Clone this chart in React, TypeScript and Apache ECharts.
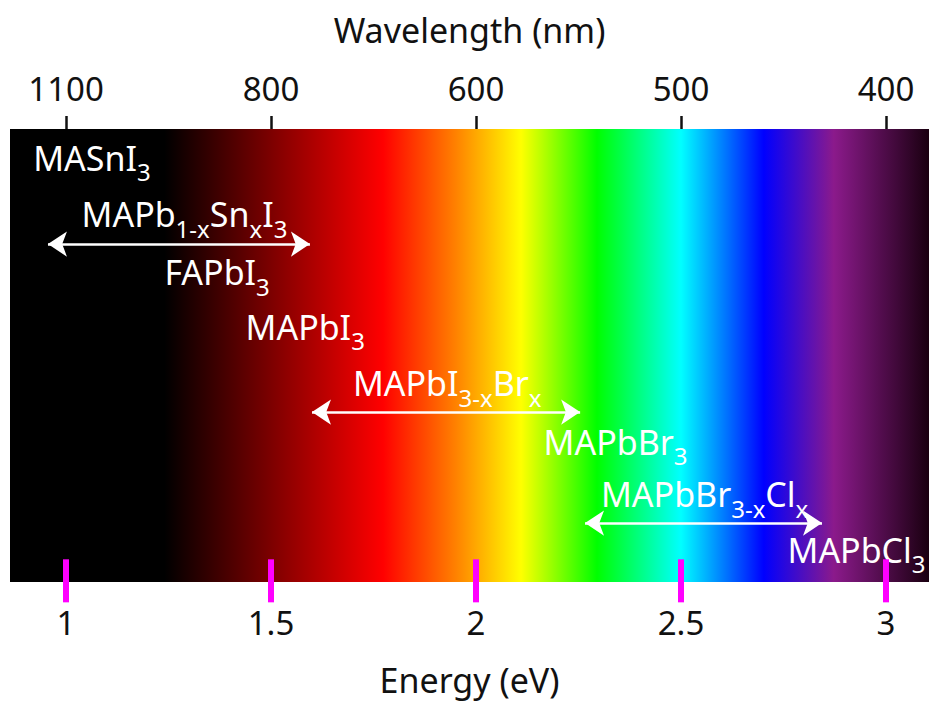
import React, { useEffect, useRef } from "react";
import * as echarts from "echarts";

// Axis data
const energyRange = [0.8634, 3.105];
const energyTicks = [1, 1.5, 2, 2.5, 3];
const energyTickLabels = ["1", "1.5", "2", "2.5", "3"];
const wavelengthLabels = ["1100", "800", "600", "500", "400"];

// Vertical layout rows (band spans rows 0..10, bottom ticks hang below it)
const bandRows = [0, 10];
const tickRows = [9.5, 10.45];

// Spectrum colour stops (energy in eV -> colour)
const spectrumEnergies = [0.8634, 1.24, 1.773, 1.949, 2.11, 2.295, 2.5, 2.702, 2.873, 3.105];
const spectrumColors = ["#000000", "#000000", "#ff0000", "#ff8000", "#ffff00", "#00ff00", "#00ffff", "#0000ff", "#8b1a8b", "#1a0010"];

// Material labels
const materialLabels = [
  "MASnI_{3}",
  "MAPb_{1-x}Sn_{x}I_{3}",
  "FAPbI_{3}",
  "MAPbI_{3}",
  "MAPbI_{3-x}Br_{x}",
  "MAPbBr_{3}",
  "MAPbBr_{3-x}Cl_{x}",
  "MAPbCl_{3}",
];
const labelEnergy = [0.92, 1.038, 1.24, 1.438, 1.7, 2.165, 2.305, 2.76];
const labelRow = [0.64, 1.88, 3.16, 4.37, 5.61, 6.91, 8.06, 9.29];

// Tunable-composition arrows
const arrowStart = [0.956, 1.6, 2.266];
const arrowEnd = [1.595, 2.254, 2.844];
const arrowRow = [2.54, 6.25, 8.7];

const FONT = "Noto Sans";

function toRich(s: string): string {
  const out: string[] = [];
  const re = /_\{([^}]*)\}/g;
  let last = 0;
  let m: RegExpExecArray | null;
  while ((m = re.exec(s))) {
    if (m.index > last) out.push(`{m|${s.slice(last, m.index)}}`);
    out.push(`{s|${m[1]}}`);
    last = m.index + m[0].length;
  }
  if (last < s.length) out.push(`{m|${s.slice(last)}}`);
  return out.join("");
}

export default function App() {
  const ref = useRef<HTMLDivElement>(null);
  useEffect(() => {
    if (!ref.current) return;
    const chart = echarts.init(ref.current, undefined, { renderer: "svg" });
    const [eMin, eMax] = energyRange;
    const stops = spectrumEnergies.map((e, i) => ({
      offset: (e - eMin) / (eMax - eMin),
      color: spectrumColors[i],
    }));
    const tickLabelFor = (arr: string[]) => (v: number) => {
      const i = energyTicks.findIndex((t) => Math.abs(t - v) < 1e-6);
      return i >= 0 ? arr[i] : "";
    };
    const axisCommon = {
      type: "value",
      min: eMin,
      max: eMax,
      nameLocation: "middle",
      nameTextStyle: { fontFamily: FONT, fontSize: 34, color: "#111" },
      axisLine: { show: false, onZero: false },
      splitLine: { show: false },
    };
    chart.setOption({
      animation: false,
      backgroundColor: "#ffffff",
      grid: { left: 10, right: 0, top: 129, bottom: 108, containLabel: false, outerBoundsMode: "none" },
      xAxis: [
        {
          ...axisCommon,
          position: "bottom",
          name: "Energy (eV)",
          nameGap: 67,
          axisTick: { show: false },
          axisLabel: {
            customValues: energyTicks,
            formatter: tickLabelFor(energyTickLabels),
            fontFamily: FONT,
            fontSize: 33,
            color: "#111",
            margin: 10,
          },
        },
        {
          ...axisCommon,
          position: "top",
          name: "Wavelength (nm)",
          nameGap: 82,
          axisTick: {
            show: true,
            inside: false,
            length: 13,
            customValues: energyTicks,
            lineStyle: { color: "#111", width: 2.5 },
          },
          axisLabel: {
            customValues: energyTicks,
            formatter: tickLabelFor(wavelengthLabels),
            fontFamily: FONT,
            fontSize: 33,
            color: "#111",
            margin: 24,
          },
        },
      ],
      yAxis: { type: "value", min: bandRows[0], max: 10.31, inverse: true, show: false },
      series: [
        {
          type: "custom",
          xAxisIndex: 0,
          silent: true,
          renderItem: (params: any, api: any) => {
            const p0 = api.coord([api.value(0), api.value(2)]);
            const p1 = api.coord([api.value(1), api.value(3)]);
            const top = Math.min(p0[1], p1[1]);
            const bottom = Math.max(p0[1], p1[1]);
            return {
              type: "rect",
              shape: { x: p0[0], y: top, width: p1[0] - p0[0], height: bottom - top },
              style: { fill: new echarts.graphic.LinearGradient(0, 0, 1, 0, stops) },
            };
          },
          data: [[eMin, eMax, bandRows[0], bandRows[1]]],
          z: 1,
        },
        {
          type: "lines",
          coordinateSystem: "cartesian2d",
          xAxisIndex: 0,
          clip: false,
          silent: true,
          lineStyle: { color: "#ff00ff", width: 6, opacity: 1 },
          data: energyTicks.map((t) => ({
            coords: [
              [t, tickRows[0]],
              [t, tickRows[1]],
            ],
          })),
          z: 20,
        },
        {
          type: "lines",
          coordinateSystem: "cartesian2d",
          xAxisIndex: 0,
          symbol: ["arrow", "arrow"],
          symbolSize: 19,
          lineStyle: { color: "#ffffff", width: 2.5, opacity: 1 },
          data: arrowStart.map((s, i) => ({
            coords: [
              [s, arrowRow[i]],
              [arrowEnd[i], arrowRow[i]],
            ],
          })),
          z: 3,
        },
        {
          type: "scatter",
          xAxisIndex: 0,
          symbolSize: 1,
          itemStyle: { color: "rgba(0,0,0,0)", opacity: 1 },
          data: labelEnergy.map((e, i) => [e, labelRow[i]]),
          label: {
            show: true,
            opacity: 1,
            position: "inside",
            align: "left",
            verticalAlign: "middle",
            formatter: (p: any) => toRich(materialLabels[p.dataIndex]),
            rich: {
              m: { fontFamily: FONT, fontSize: 34, color: "#ffffff", lineHeight: 38 },
              s: {
                fontFamily: FONT,
                fontSize: 24,
                color: "#ffffff",
                lineHeight: 24,
                padding: [28, 0, 0, 0],
              },
            },
          },
          z: 4,
        },
      ],
    });
    return () => chart.dispose();
  }, []);
  return (
    <div
      ref={ref}
      style={{ position: "fixed", left: 0, top: 0, width: 929, height: 704, background: "#fff" }}
    />
  );
}
